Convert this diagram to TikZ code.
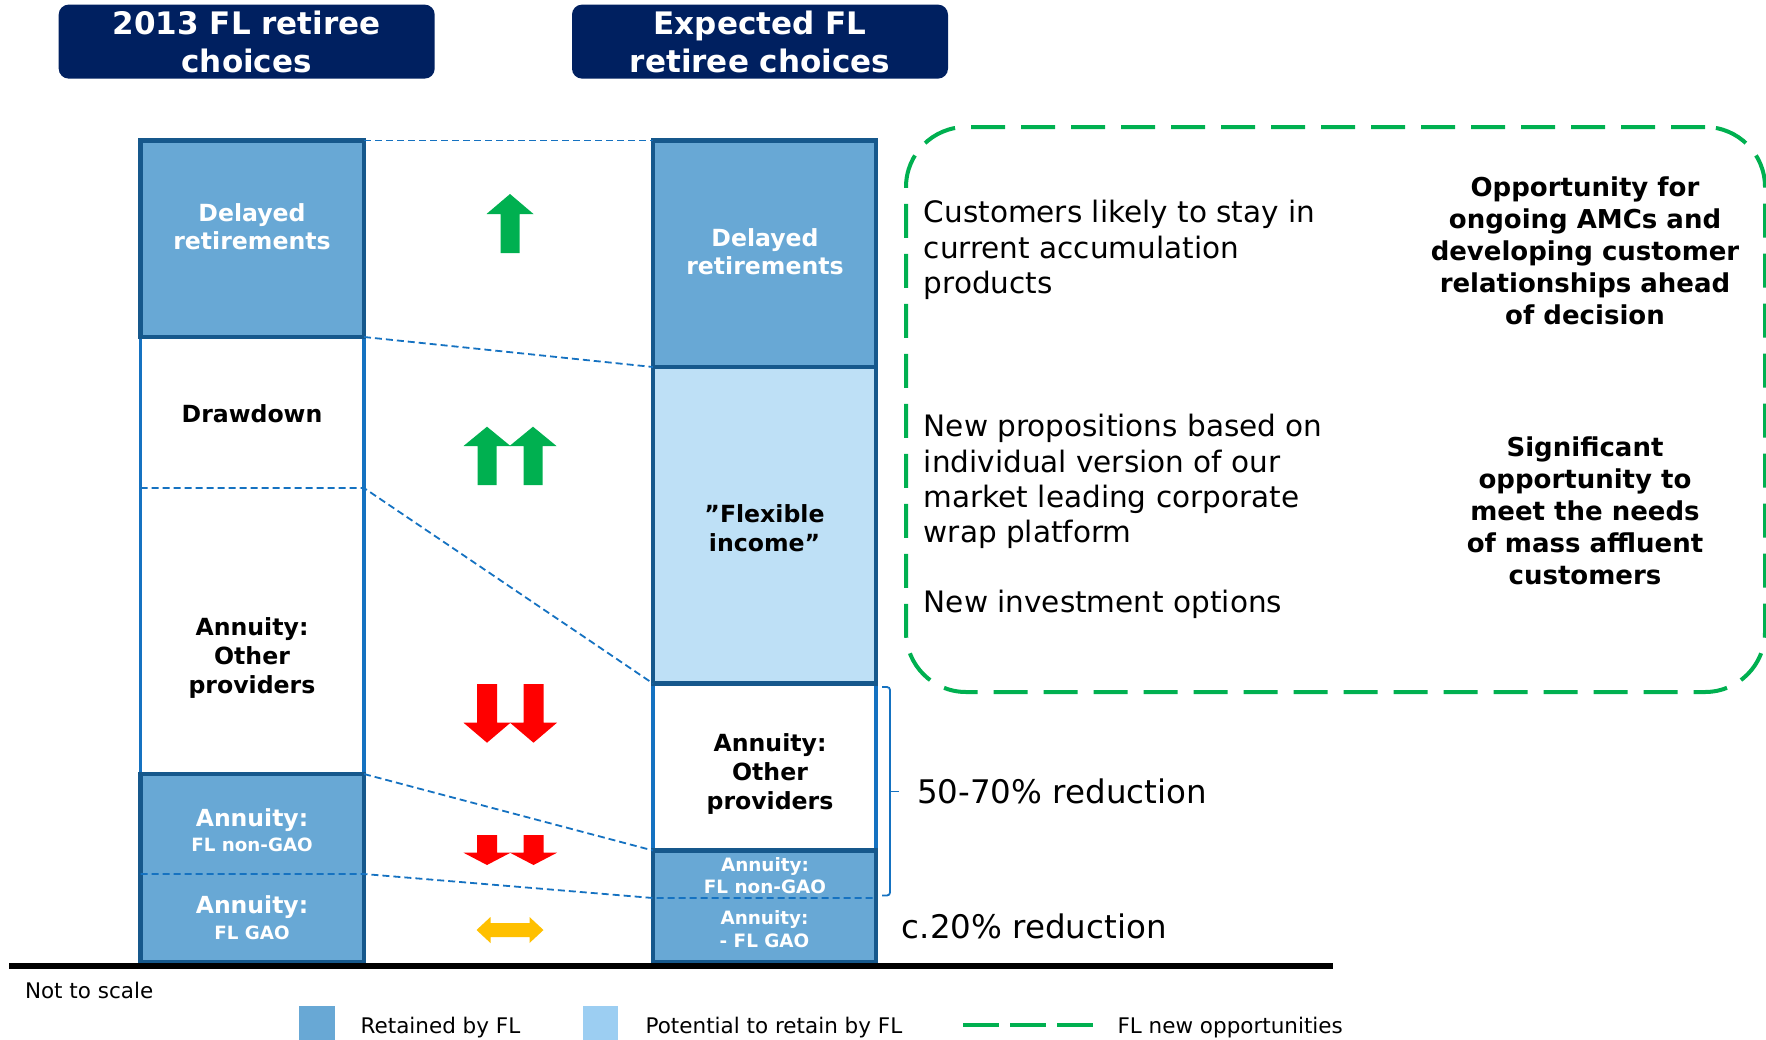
\documentclass[tikz,border=0pt]{standalone}
\usepackage{fontspec}
\setmainfont{DejaVu Sans}
\newcommand\myfs[2]{\fontsize{#1}{#2}\selectfont}
\definecolor{navy}{RGB}{0,32,96}
\definecolor{midblue}{RGB}{104,168,213}
\definecolor{darkb}{RGB}{22,88,140}
\definecolor{wblue}{RGB}{21,114,193}
\definecolor{lightfill}{RGB}{190,224,246}
\definecolor{legfill}{RGB}{156,206,242}
\definecolor{oppgreen}{RGB}{0,176,80}
\definecolor{arrred}{RGB}{255,0,0}
\definecolor{arryel}{RGB}{255,192,0}
\newcommand\arrowv[5]{% x, tip y, head base y, end y, shaft half width
  \fill (#1-#5,#4) -- (#1-#5,#3) -- (#1-23.5,#3) -- (#1,#2) -- (#1+23.5,#3) -- (#1+#5,#3) -- (#1+#5,#4) -- cycle;}
\begin{document}
\begin{tikzpicture}[x=1pt,y=-1pt,
  seg/.style={rectangle, inner sep=0pt, outer sep=0pt, anchor=north west},
  darkline/.style={draw=darkb, line width=4.5pt},
  whiteline/.style={draw=wblue, line width=3.2pt},
  conn/.style={draw=wblue, line width=1.8pt, dash pattern=on 7pt off 4pt},
  title/.style={fill=navy, rounded corners=10pt, minimum width=376pt, minimum height=74pt, text=white, font=\bfseries\myfs{31}{38.3}, align=center, inner sep=0pt},
  wlab/.style={text=white, font=\bfseries\myfs{23.6}{28}, align=center, inner sep=0pt},
  blab/.style={text=black, font=\bfseries\myfs{23.6}{29.4}, align=center, inner sep=0pt},
  body/.style={font=\myfs{29.5}{35.2}, align=left, inner sep=0pt, anchor=west},
  bold/.style={font=\bfseries\myfs{26}{32}, align=center, inner sep=0pt},
  oppbox/.style={draw=oppgreen, line width=4pt, dash pattern=on 34pt off 16pt, rounded corners=60pt, inner sep=0pt, anchor=north west},
  leg/.style={font=\myfs{21.5}{26}, inner sep=0pt, anchor=west}
]
\useasboundingbox (0,0) rectangle (1766,1039);

% titles
\node[title] (t1) at (246.7,41.6) {2013 FL retiree\\choices};
\node[title] (t2) at (760,41.6) {Expected FL\\retiree choices};

% left column segments
\node[seg, fill=midblue, minimum width=223.5pt, minimum height=196.5pt] (ldel) at (140.5,140.5) {};
\node[seg, fill=white, minimum width=223.5pt, minimum height=151pt] (ldd) at (140.5,337) {};
\node[seg, fill=white, minimum width=223.5pt, minimum height=286pt] (loth) at (140.5,488) {};
\node[seg, fill=midblue, minimum width=223.5pt, minimum height=100pt] (lnon) at (140.5,774) {};
\node[seg, fill=midblue, minimum width=223.5pt, minimum height=88pt] (lgao) at (140.5,874) {};
% right column segments
\node[seg, fill=midblue, minimum width=223pt, minimum height=226.5pt] (rdel) at (653,140.5) {};
\node[seg, fill=lightfill, minimum width=223pt, minimum height=316.5pt] (rflex) at (653,367) {};
\node[seg, fill=white, minimum width=223pt, minimum height=167pt] (roth) at (653,683.5) {};
\node[seg, fill=midblue, minimum width=223pt, minimum height=47.5pt] (rnon) at (653,850.5) {};
\node[seg, fill=midblue, minimum width=223pt, minimum height=64pt] (rgao) at (653,898) {};

% outlines
\draw[whiteline] (ldd.north west) rectangle (loth.south east);
\draw[whiteline] (roth.north west) rectangle (roth.south east);
\draw[darkline] (ldel.north west) rectangle (ldel.south east);
\draw[darkline] (lnon.north west) rectangle (lgao.south east);
\draw[darkline] (rdel.north west) rectangle (rdel.south east);
\draw[darkline] (rflex.north west) rectangle (rflex.south east);
\draw[darkline] (rnon.north west) rectangle (rgao.south east);

% dashed connectors
\draw[conn] (ldel.north east) -- (rdel.north west);
\draw[conn] (ldel.south east) -- (rflex.north west);
\draw[conn] (ldd.south west) -- (ldd.south east) -- (roth.north west);
\draw[conn] (loth.south east) -- (rnon.north west);
\draw[conn] (lgao.north west) -- (lgao.north east) -- (rgao.north west) -- (rgao.north east);

% base line
\coordinate (b1) at (9,965.5);
\coordinate (b2) at (1333,965.5);
\draw[line width=6pt] (b1) -- (b2);

% labels in columns
\node[wlab] (tldel) at (252,227) {Delayed\\retirements};
\node[wlab] (trdel) at (765,251.7) {Delayed\\retirements};
\node[blab] (tdd) at (252,413.4) {Drawdown};
\node[blab] (tloth) at (252,658) {Annuity:\\Other\\providers};
\node[wlab, font=\bfseries\myfs{18.3}{24.8}] (tlnon) at (252,830) {{\myfs{23.5}{24.8}Annuity:}\\FL non-GAO};
\node[wlab, font=\bfseries\myfs{18.3}{25.9}] (tlgao) at (252,917.5) {{\myfs{23.5}{25.9}Annuity:}\\FL GAO};
\node[blab] (trflex) at (764.5,528.3) {”Flexible\\income”};
\node[blab] (troth) at (770,774) {Annuity:\\Other\\providers};
\node[wlab, font=\bfseries\myfs{18.4}{21.4}] (trnon) at (765,875.7) {Annuity:\\FL non-GAO};
\node[wlab, font=\bfseries\myfs{18.4}{22.5}] (trgao) at (764.5,929.3) {Annuity:\\- FL GAO};

% arrows
\begin{scope}[fill=oppgreen]
\arrowv{510}{194}{214}{253}{9.5}
\arrowv{487}{426.7}{446}{485}{9.5}
\arrowv{533}{426.7}{446}{485}{9.5}
\end{scope}
\begin{scope}[fill=arrred]
\arrowv{487}{742.7}{722.7}{684}{10}
\arrowv{533.5}{742.7}{722.7}{684}{10}
\arrowv{487}{865}{852.7}{835}{10}
\arrowv{533.5}{865}{852.7}{835}{10}
\end{scope}
\fill[arryel] (476.5,930) -- (490.5,917) -- (490.5,923) -- (529.5,923) -- (529.5,917) -- (543.5,930) -- (529.5,943) -- (529.5,937) -- (490.5,937) -- (490.5,943) -- cycle;

% bracket
\draw[wblue, line width=1.8pt, rounded corners=3pt] (882,687) -- (890,687) -- (890,895.5) -- (882,895.5);
\draw[wblue, line width=1.8pt] (890,791.5) -- (899,791.5);
\node[font=\myfs{32.5}{38}, inner sep=0pt, anchor=base west] (red1) at (917,803.5) {50-70\% reduction};
\node[font=\myfs{32.5}{38}, inner sep=0pt, anchor=base west] (red2) at (901.7,938.5) {c.20\% reduction};

% opportunities box
\node[oppbox, minimum width=859pt, minimum height=565pt] (opp) at (904,125) {};
\node[body] (o1) at (923.6,250) {Customers likely to stay in\\current accumulation\\products};
\node[body] (o2) at (923.6,481.5) {New propositions based on\\individual version of our\\market leading corporate\\wrap platform};
\node[body, anchor=base west] (o3) at (923.6,612) {New investment options};
\node[bold] (o4) at (1585,251) {Opportunity for\\ongoing AMCs and\\developing customer\\relationships ahead\\of decision};
\node[bold] (o5) at (1585,511) {Significant\\opportunity to\\meet the needs\\of mass affluent\\customers};

% footer and legend
\node[leg] (nts) at (24.8,990) {Not to scale};
\node[seg, fill=midblue, minimum width=36pt, minimum height=34pt] (lg1) at (298.5,1006) {};
\node[leg] (lt1) at (360.4,1028) {Retained by FL};
\node[seg, fill=legfill, minimum width=35pt, minimum height=34pt] (lg2) at (583.4,1006) {};
\node[leg] (lt2) at (645.4,1028) {Potential to retain by FL};
\coordinate (lg3a) at (963,1025);
\coordinate (lg3b) at (1098,1025);
\draw[oppgreen, line width=4.5pt, dash pattern=on 36pt off 11pt] (lg3a) -- (lg3b);
\node[leg] (lt3) at (1117.3,1028) {FL new opportunities};
\end{tikzpicture}
\end{document}
